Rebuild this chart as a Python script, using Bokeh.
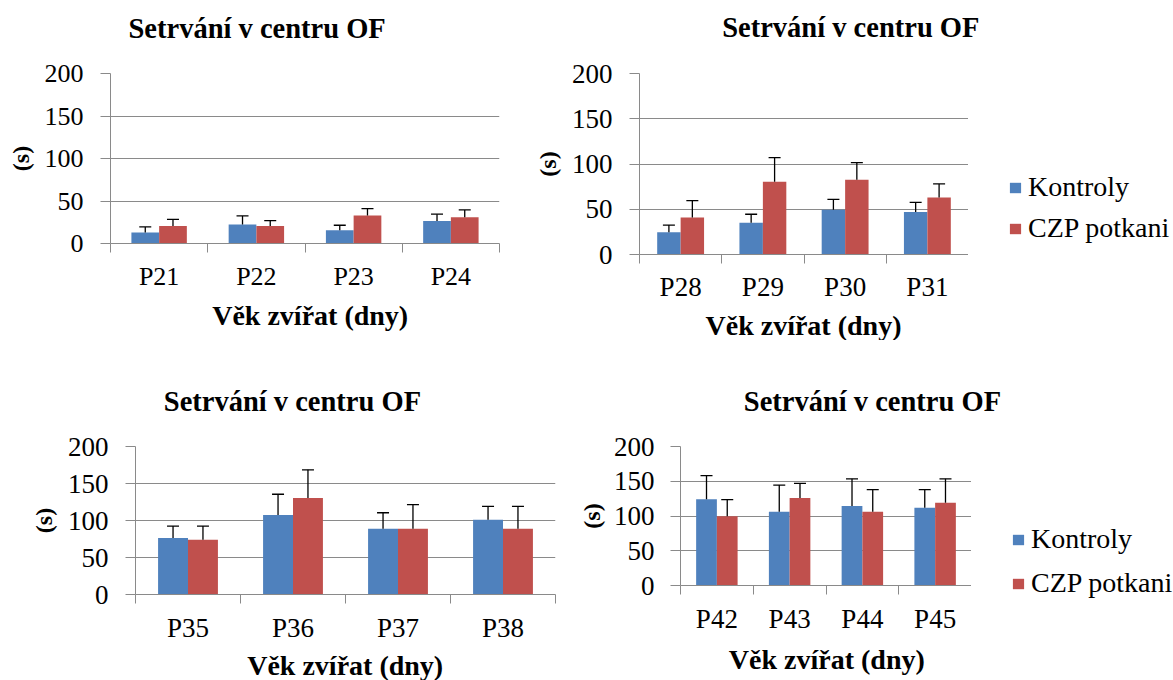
from bokeh.plotting import figure
from bokeh.models import (Range1d, FixedTicker, Whisker, TeeHead, ColumnDataSource,
                          Legend, LegendItem, Label)
from bokeh.core.properties import value
from bokeh.layouts import row, column
from bokeh.embed import file_html
from bokeh.resources import INLINE

# ---------------- data ----------------
TITLE = "Setrvání v centru OF"
X_LABEL = "Věk zvířat (dny)"
Y_LABEL = "(s)"
SERIES = ["Kontroly", "CZP potkani"]
COLORS = ["#4F81BD", "#C0504D"]
Y_TICKS = [0, 50, 100, 150, 200]

days_a = ["P21", "P22", "P23", "P24"]
kontroly_a = [13, 22.5, 15.5, 26.5]
kontroly_err_a = [6.5, 10, 6, 8]
czp_a = [20.5, 20.5, 33, 31]
czp_err_a = [8, 6.5, 8, 8.5]

days_b = ["P28", "P29", "P30", "P31"]
kontroly_b = [24.5, 35, 49.5, 47]
kontroly_err_b = [8, 9.5, 11.5, 10.5]
czp_b = [41, 80.5, 82.5, 63]
czp_err_b = [18.5, 26.5, 19, 15]

days_c = ["P35", "P36", "P37", "P38"]
kontroly_c = [76.5, 107.5, 89, 101]
kontroly_err_c = [16, 28, 21.5, 18]
czp_c = [74, 130.5, 89, 89]
czp_err_c = [18.5, 38, 32.5, 30]

days_d = ["P42", "P43", "P44", "P45"]
kontroly_d = [124, 106, 114.5, 112]
kontroly_err_d = [34, 38.5, 39, 26]
czp_d = [99.5, 126, 106, 119]
czp_err_d = [24, 21, 32, 34.5]

# ---------------- layout / style ----------------
FONT = "Liberation Serif"
GRID = "#8A8A8A"
BAR_W = 0.285
TITLE_SIZE = "28.5px"
XLABEL_SIZE = "28px"
LEGEND_SIZE = "28px"
YLABEL_SIZE = "24px"

cfg_a = dict(width=520, title_h=50, title_x=128, title_y=22.3,
             plot_w=520, left=110, right=21, top=23, frame_h=170, bottom=56,
             xl_h=41, xl_x=211.7, xl_y=24.7,
             tick_size="26px", ytick_standoff=17, ylabel_standoff=8,
             xtick_standoff=9, legend=None)
cfg_b = dict(width=653, title_h=50, title_x=201.7, title_y=23,
             plot_w=448, left=119, right=0, top=23, frame_h=181, bottom=54,
             xl_h=32, xl_x=185, xl_y=15.5,
             tick_size="27px", ytick_standoff=17, ylabel_standoff=8,
             xtick_standoff=8, legend=dict(x=40, y=64, spacing=9))
cfg_c = dict(width=560, title_h=80, title_x=163.3, title_y=19,
             plot_w=560, left=135, right=5, top=26, frame_h=148, bottom=54,
             xl_h=32, xl_x=246.7, xl_y=15,
             tick_size="27px", ytick_standoff=17, ylabel_standoff=8,
             xtick_standoff=9, legend=None)
cfg_d = dict(width=613, title_h=80, title_x=183.3, title_y=19,
             plot_w=411, left=120, right=0, top=26, frame_h=139, bottom=54,
             xl_h=41, xl_x=168.3, xl_y=20.7,
             tick_size="27px", ytick_standoff=16, ylabel_standoff=6,
             xtick_standoff=9, legend=dict(x=40, y=40, spacing=12))


def blank(w, h):
    f = figure(width=w, height=h, output_backend="svg", toolbar_location=None,
               x_axis_location=None, y_axis_location=None, min_border=0,
               x_range=Range1d(0, 1), y_range=Range1d(0, 1))
    f.outline_line_color = None
    f.grid.visible = False
    f.background_fill_color = "white"
    f.border_fill_color = "white"
    return f


def text_fig(w, h, text, x, y, size):
    f = blank(w, h)
    f.add_layout(Label(x=x, y=y, x_units="screen", y_units="screen", text=text,
                       text_font=FONT, text_font_style="bold",
                       text_font_size=size, text_color="black",
                       text_align="left", text_baseline="alphabetic"))
    return f


def make_panel(days, kv, ke, cv, ce, cfg):
    n = len(days)
    centers = [i + 0.5 for i in range(n)]
    src = ColumnDataSource(dict(
        xk=[c - BAR_W / 2 for c in centers],
        xc=[c + BAR_W / 2 for c in centers],
        k=kv, k_hi=[v + e for v, e in zip(kv, ke)],
        c=cv, c_hi=[v + e for v, e in zip(cv, ce)],
    ))
    plot_h = cfg["top"] + cfg["frame_h"] + cfg["bottom"]
    p = figure(width=cfg["plot_w"], height=plot_h,
               x_range=Range1d(0, n), y_range=Range1d(0, 200),
               output_backend="svg", toolbar_location=None,
               min_border_left=cfg["left"], min_border_right=cfg["right"],
               min_border_top=cfg["top"], min_border_bottom=cfg["bottom"])
    p.outline_line_color = None
    p.background_fill_color = "white"
    p.border_fill_color = "white"

    p.xgrid.visible = False
    p.ygrid.ticker = FixedTicker(ticks=Y_TICKS)
    p.ygrid.grid_line_color = GRID
    p.ygrid.grid_line_width = 1

    p.vbar(x="xk", top="k", width=BAR_W, bottom=0, source=src,
           fill_color=COLORS[0], line_color=None)
    p.vbar(x="xc", top="c", width=BAR_W, bottom=0, source=src,
           fill_color=COLORS[1], line_color=None)
    for xs, lo, hi in (("xk", "k", "k_hi"), ("xc", "c", "c_hi")):
        p.add_layout(Whisker(
            base=xs, lower=lo, upper=hi, source=src, dimension="height",
            line_color="black", line_width=1.3, lower_head=None,
            upper_head=TeeHead(size=12, line_color="black", line_width=1.3),
            level="overlay"))

    # x axis: labels at category centres, tick marks at category boundaries
    xa = p.xaxis[0]
    xa.ticker = FixedTicker(ticks=centers, minor_ticks=list(range(n + 1)))
    xa.major_label_overrides = {c: d for c, d in zip(centers, days)}
    xa.major_tick_out = 0
    xa.major_tick_in = 0
    xa.minor_tick_out = 9
    xa.minor_tick_in = 0
    xa.minor_tick_line_color = GRID
    xa.axis_line_color = GRID
    xa.major_label_text_font = FONT
    xa.major_label_text_font_size = cfg["tick_size"]
    xa.major_label_text_color = "black"
    xa.major_label_standoff = cfg["xtick_standoff"]

    ya = p.yaxis[0]
    ya.ticker = FixedTicker(ticks=Y_TICKS)
    ya.major_tick_out = 10
    ya.major_tick_in = 0
    ya.major_tick_line_color = GRID
    ya.minor_tick_line_color = None
    ya.axis_line_color = GRID
    ya.major_label_text_font = FONT
    ya.major_label_text_font_size = cfg["tick_size"]
    ya.major_label_text_color = "black"
    ya.major_label_standoff = cfg["ytick_standoff"]
    ya.axis_label = Y_LABEL
    ya.axis_label_text_font = FONT
    ya.axis_label_text_font_style = "bold"
    ya.axis_label_text_font_size = YLABEL_SIZE
    ya.axis_label_text_color = "black"
    ya.axis_label_standoff = cfg["ylabel_standoff"]

    title_fig = text_fig(cfg["width"], cfg["title_h"], TITLE,
                         cfg["title_x"], cfg["title_y"], TITLE_SIZE)
    xlabel_fig = text_fig(cfg["width"], cfg["xl_h"], X_LABEL,
                          cfg["xl_x"], cfg["xl_y"], XLABEL_SIZE)

    lg = cfg["legend"]
    if lg is not None:
        lf = blank(cfg["width"] - cfg["plot_w"], plot_h)
        items = []
        for name, col, top in zip(SERIES, COLORS, ("k", "c")):
            # hidden copy of the series, only used for its legend swatch
            r = lf.vbar(x="xk", top=top, width=BAR_W, source=src,
                        fill_color=col, line_color=None, visible=False)
            items.append(LegendItem(label=value(name), renderers=[r]))
        lf.add_layout(Legend(
            items=items, location=(lg["x"], lg["y"]), orientation="vertical",
            border_line_color=None, background_fill_alpha=0,
            padding=0, margin=0, spacing=lg["spacing"],
            glyph_width=14, glyph_height=13, label_height=20,
            label_standoff=6, label_text_font=FONT,
            label_text_font_size=LEGEND_SIZE, label_text_color="black"))
        middle = row(p, column(lf, spacing=0), spacing=0)
    else:
        middle = row(p, spacing=0)
    return column(title_fig, middle, xlabel_fig, spacing=0)


panel_a = make_panel(days_a, kontroly_a, kontroly_err_a, czp_a, czp_err_a, cfg_a)
panel_b = make_panel(days_b, kontroly_b, kontroly_err_b, czp_b, czp_err_b, cfg_b)
panel_c = make_panel(days_c, kontroly_c, kontroly_err_c, czp_c, czp_err_c, cfg_c)
panel_d = make_panel(days_d, kontroly_d, kontroly_err_d, czp_d, czp_err_d, cfg_d)

layout = column(row(panel_a, panel_b, spacing=0),
                row(panel_c, panel_d, spacing=0), spacing=0)

open("out.html", "w").write(file_html(layout, INLINE))
